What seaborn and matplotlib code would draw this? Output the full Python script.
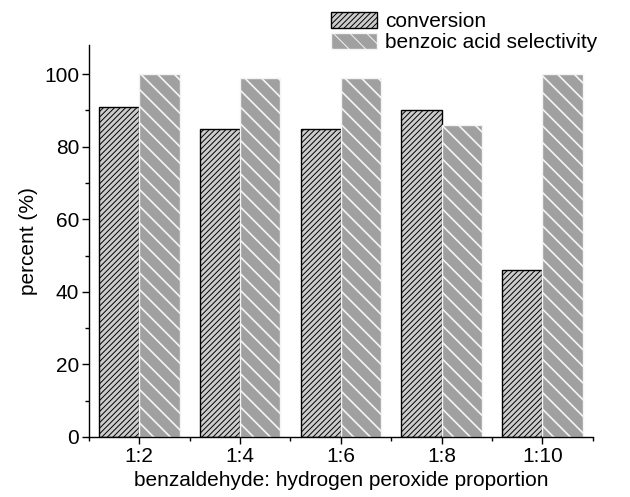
import pandas as pd
import matplotlib.pyplot as plt
import seaborn as sns
from matplotlib.patches import Patch
from matplotlib.ticker import MultipleLocator, FixedLocator

# data
ratios = ['1:2', '1:4', '1:6', '1:8', '1:10']
conversion = [91, 85, 85, 90, 46]
selectivity = [100, 99, 99, 86, 100]

df = pd.DataFrame({
    'ratio': ratios * 2,
    'value': conversion + selectivity,
    'series': ['conversion'] * 5 + ['benzoic acid selectivity'] * 5,
})

sns.set_style('ticks')
plt.rcParams['font.family'] = ['Liberation Sans', 'DejaVu Sans']
for key in ['text.color', 'axes.labelcolor', 'xtick.color', 'ytick.color']:
    plt.rcParams[key] = 'black'
plt.rcParams['hatch.linewidth'] = 0.7

fig = plt.figure(figsize=(6.3, 4.97), dpi=100)
ax = fig.add_axes([0.141, 0.121, 0.8, 0.788])

sns.barplot(data=df, x='ratio', y='value', hue='series', order=ratios,
            palette=['#cccccc', '#a0a0a0'], width=0.8, ax=ax, legend=False)

# conversion: black hatch and edge; selectivity: white hatch
conv_hatch = '//////'
sel_hatch = '\\\\'
for patch in ax.containers[0]:
    patch.set_hatch(conv_hatch)
    patch.set_edgecolor('black')
    patch.set_linewidth(1.0)
for patch in ax.containers[1]:
    patch.set_hatch(sel_hatch)
    patch.set_edgecolor('#f4f4f4')
    patch.set_linewidth(1.0)
    if hasattr(patch, 'set_hatch_linewidth'):
        patch.set_hatch_linewidth(1.2)

handles = [
    Patch(facecolor='#cccccc', edgecolor='black', hatch=conv_hatch, label='conversion'),
    Patch(facecolor='#a0a0a0', edgecolor='#f4f4f4', hatch=sel_hatch, label='benzoic acid selectivity'),
]
fig.legend(handles=handles, loc='upper right', bbox_to_anchor=(0.975, 1.01),
           frameon=False, fontsize=15, handlelength=2.2, handleheight=0.8,
           handletextpad=0.4, labelspacing=0.1, borderpad=0.3)

ax.set_xlim(-0.5, 4.5)
ax.set_ylim(0, 108)
ax.yaxis.set_major_locator(MultipleLocator(20))
ax.yaxis.set_minor_locator(MultipleLocator(10))
ax.xaxis.set_minor_locator(FixedLocator([-0.5, 0.5, 1.5, 2.5, 3.5, 4.5]))
ax.tick_params(axis='both', which='major', labelsize=15, length=5, width=1,
               direction='out', pad=2)
ax.tick_params(axis='both', which='minor', length=3, width=1, direction='out')
for side in ['top', 'right']:
    ax.spines[side].set_visible(False)
for side in ['left', 'bottom']:
    ax.spines[side].set_linewidth(1.0)
    ax.spines[side].set_color('black')

ax.set_xlabel('benzaldehyde: hydrogen peroxide proportion', fontsize=15, labelpad=4)
ax.set_ylabel('percent (%)', fontsize=15, labelpad=4)

fig.savefig('out.png', dpi=100)
plt.close()
